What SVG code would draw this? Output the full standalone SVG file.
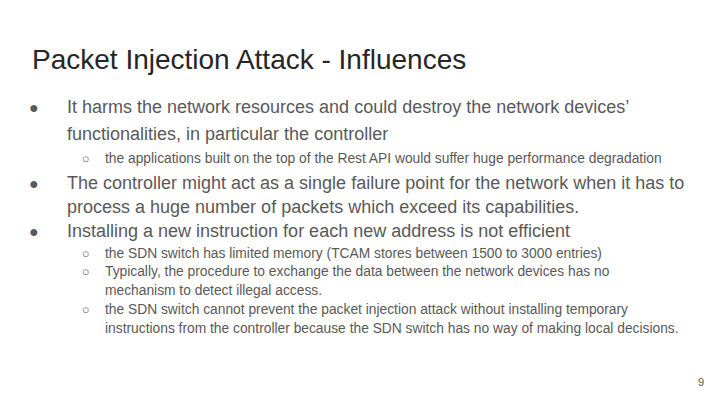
<svg xmlns="http://www.w3.org/2000/svg" width="720" height="405" viewBox="0 0 720 405">
<style>
.t{font-family:"Liberation Sans",Arial,sans-serif;fill:#595959}
.title{font-size:28px;fill:#262626}
.b{font-size:18px}
.s{font-size:13.8px}
.d{font-size:16px}
.c{font-size:12.5px}
</style>
<rect width="720" height="405" fill="#fff"/>
<text class="t title" x="32" y="69">Packet Injection Attack - Influences</text>
<g class="t b">
<text class="d" x="29" y="113">●</text>
<text x="67" y="113">It harms the network resources and could destroy the network devices’</text>
<text x="67" y="140">functionalities, in particular the controller</text>
<text class="d" x="29" y="189">●</text>
<text x="67" y="189">The controller might act as a single failure point for the network when it has to</text>
<text x="67" y="213">process a huge number of packets which exceed its capabilities.</text>
<text class="d" x="29" y="237">●</text>
<text x="67" y="237">Installing a new instruction for each new address is not efficient</text>
</g>
<g class="t s">
<text class="c" x="82" y="163">○</text>
<text x="105" y="163">the applications built on the top of the Rest API would suffer huge performance degradation</text>
<text class="c" x="82" y="258">○</text>
<text x="105" y="258">the SDN switch has limited memory (TCAM stores between 1500 to 3000 entries)</text>
<text class="c" x="82" y="276">○</text>
<text x="105" y="276">Typically, the procedure to exchange the data between the network devices has no</text>
<text x="105" y="295">mechanism to detect illegal access.</text>
<text class="c" x="82" y="314">○</text>
<text x="105" y="314">the SDN switch cannot prevent the packet injection attack without installing temporary</text>
<text x="105" y="333">instructions from the controller because the SDN switch has no way of making local decisions.</text>
<text x="698" y="386" font-size="11">9</text>
</g>
</svg>
